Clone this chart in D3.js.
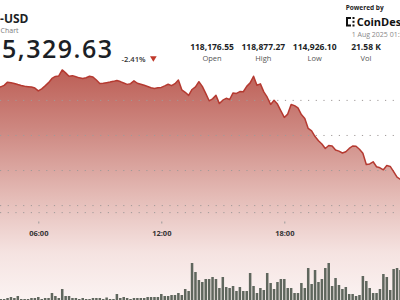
<!DOCTYPE html>
<html>
<head>
<meta charset="utf-8">
<script src="https://cdn.jsdelivr.net/npm/d3@7"></script>
<style>
  body { margin: 0; background: #fff; }
  svg { display: block; font-family: "Open Sans", sans-serif; }
</style>
</head>
<body>
<svg id="chart" width="400" height="300"></svg>
<script>
// BTC-USD, 10 minute steps from 31 Jul 2025 03:50 UTC
var startTime = Date.UTC(2025, 6, 31, 3, 50);
var prices = [
  118360,
  118371,118386,118429,118520,118506,118483,118451,118423,118403,118391,
  118380,118351,118271,118329,118414,118506,118626,118683,118697,118869,
  118786,118691,118706,118674,118643,118626,118646,118689,118669,118580,
  118483,118491,118506,118523,118543,118569,118537,118497,118457,118477,
  118557,118489,118463,118431,118397,118360,118340,118360,118371,118414,
  118460,118420,118477,118583,118303,118231,118143,118311,118386,118534,
  118400,118200,117989,118043,118143,117909,118006,118060,118026,118214,
  118200,118251,118246,118400,118500,118689,118434,118471,118243,118091,
  117886,118003,117894,117703,117514,117609,117883,117851,117786,117597,
  117483,117200,117129,116969,116851,116757,116629,116714,116700,116586,
  116554,116500,116537,116629,116700,116691,116606,116491,116174,116189,
  116249,116109,116077,116020,116143,116117,115971,115809,115749,115600,
  115420,115329.63
];
var volumes = [
  1,1,
  1,1,2,3,2,4,1,1,1,2,2,3,1,2,2,7,4,2,11,4,4,2,2,1,2,1,1,2,2,
  2,1,2.5,1,1,6,2,3,2,1,2,2,2,2,3,3,3,3,6,4,4,5,5,7,5,11,9,37,28,20,
  18,21,21,23,21,12,23,13,12,14,9,13,9,9,27,14,7,12,10,27,17,11,18,21,21,12,12,7,7,
  17,12,32,16,30,18,21,32,37,14,22,15,11,13,6,6,4,5,24,19,12,7,7,11,26,23,10,31,32,
  30,25,28,20
];
var gridValues = [118000, 117000, 116000, 115000];
var statLabels = ["Open", "High", "Low", "Vol"];
var statValues = ["118,176.55", "118,877.27", "114,926.10", "21.58 K"];

var data = prices.map(function (p, i) {
  return { time: new Date(startTime + i * 600000), price: p, volume: volumes[i] };
});

var svg = d3.select("#chart");
var width = 400, height = 300;

svg.append("rect").attr("width", width).attr("height", height).attr("fill", "#fff");

var x = d3.scaleUtc()
  .domain([new Date(Date.UTC(2025, 6, 31, 6)), new Date(Date.UTC(2025, 6, 31, 18))])
  .range([38.3, 284.3]);

var y = d3.scaleLinear().domain([115000, 118000]).range([205.6, 100.4]);
var yBottom = y(114800);

var yVol = d3.scaleLinear().domain([0, 40]).range([height, height - 40]);

// area gradient
var defs = svg.append("defs");
var grad = defs.append("linearGradient")
  .attr("id", "areaFill")
  .attr("gradientUnits", "userSpaceOnUse")
  .attr("x1", 0).attr("x2", 0).attr("y1", 65).attr("y2", height);
grad.append("stop").attr("offset", "0").attr("stop-color", "#bb5b52");
grad.append("stop").attr("offset", "0.27").attr("stop-color", "#cd8780");
grad.append("stop").attr("offset", "0.57").attr("stop-color", "#e5bdb8");
grad.append("stop").attr("offset", "0.8").attr("stop-color", "#f5e3e1");
grad.append("stop").attr("offset", "1").attr("stop-color", "#fbf3f2");

var area = d3.area()
  .x(function (d) { return x(d.time); })
  .y0(height)
  .y1(function (d) { return y(d.price); });

svg.append("path")
  .datum(data)
  .attr("d", area)
  .attr("fill", "url(#areaFill)");

// dotted grid
svg.append("g")
  .selectAll("line")
  .data(gridValues.concat([y.invert(yBottom)]))
  .enter().append("line")
  .attr("x1", 0).attr("x2", width)
  .attr("y1", function (d) { return y(d); })
  .attr("y2", function (d) { return y(d); })
  .attr("stroke", "#a09a99")
  .attr("stroke-width", 1)
  .attr("stroke-dasharray", "1.2,6.5");

var line = d3.line()
  .x(function (d) { return x(d.time); })
  .y(function (d) { return y(d.price); });

svg.append("path")
  .datum(data)
  .attr("d", line)
  .attr("fill", "none")
  .attr("stroke", "#b53a31")
  .attr("stroke-width", 1.5)
  .attr("stroke-linejoin", "round");

// volume bars
var step = x(data[1].time) - x(data[0].time);
svg.append("g")
  .selectAll("rect")
  .data(data)
  .enter().append("rect")
  .attr("x", function (d) { return x(d.time) - (step - 0.9) / 2; })
  .attr("width", step - 0.9)
  .attr("y", function (d) { return yVol(d.volume); })
  .attr("height", function (d) { return height - yVol(d.volume); })
  .attr("fill", "#5f665d");

// x axis
var xAxis = d3.axisBottom(x)
  .ticks(d3.utcHour.every(6))
  .tickFormat(d3.utcFormat("%H:%M"))
  .tickSize(2)
  .tickPadding(7.5);

var xAxisG = svg.append("g")
  .attr("transform", "translate(0,221.5)")
  .call(xAxis);
xAxisG.select(".domain").remove();
xAxisG.selectAll(".tick line").attr("stroke", "#999");
xAxisG.selectAll(".tick text")
  .attr("fill", "#333")
  .style("font-family", "'Open Sans', sans-serif")
  .style("font-size", "7.5px")
  .style("font-weight", 700);

// header
svg.append("text")
  .attr("x", 28.5).attr("y", 22.5)
  .attr("text-anchor", "end")
  .attr("fill", "#1c1f26")
  .style("font-size", "12px").style("font-weight", 700)
  .text("BTC-USD");

svg.append("text")
  .attr("x", 18.5).attr("y", 32.5)
  .attr("text-anchor", "end")
  .attr("fill", "#7a7a7a")
  .style("font-size", "7px")
  .text("Price Chart");

svg.append("text")
  .attr("x", 113.5).attr("y", 58)
  .attr("text-anchor", "end")
  .attr("fill", "#1c1f26")
  .style("font-size", "25px").style("font-weight", 600)
  .style("letter-spacing", "1.5px")
  .text(d3.format(",.2f")(prices[prices.length - 1]));

svg.append("text")
  .attr("x", 121.5).attr("y", 61.5)
  .attr("fill", "#333")
  .style("font-size", "7.6px").style("font-weight", 600)
  .text("-2.41%");

svg.append("path")
  .attr("d", "M150,56.3L156.7,56.3L153.35,61.8Z")
  .attr("fill", "#c0392b");

var statX = d3.scalePoint().domain(statLabels).range([212, 366]);

svg.append("g")
  .selectAll("text")
  .data(statValues)
  .enter().append("text")
  .attr("x", function (d, i) { return statX(statLabels[i]); })
  .attr("y", 50)
  .attr("text-anchor", "middle")
  .attr("fill", "#1c1f26")
  .style("font-size", "8.5px").style("font-weight", 700)
  .text(function (d) { return d; });

svg.append("g")
  .selectAll("text")
  .data(statLabels)
  .enter().append("text")
  .attr("x", function (d) { return statX(d); })
  .attr("y", 61)
  .attr("text-anchor", "middle")
  .attr("fill", "#555")
  .style("font-size", "7.5px")
  .text(function (d) { return d; });

// powered by
svg.append("text")
  .attr("x", 345.7).attr("y", 10)
  .attr("fill", "#222")
  .style("font-size", "6.5px").style("font-weight", 700)
  .text("Powered by");

var logo = svg.append("g").attr("fill", "#111");
logo.append("rect").attr("x", 346).attr("y", 17).attr("width", 2).attr("height", 9.5);
logo.append("rect").attr("x", 348).attr("y", 17).attr("width", 3).attr("height", 2);
logo.append("rect").attr("x", 348).attr("y", 24.5).attr("width", 3).attr("height", 2);
logo.append("rect").attr("x", 352.5).attr("y", 17).attr("width", 2).attr("height", 2);
logo.append("rect").attr("x", 352.5).attr("y", 20.8).attr("width", 2).attr("height", 2);
logo.append("rect").attr("x", 352.5).attr("y", 24.5).attr("width", 2).attr("height", 2);

svg.append("text")
  .attr("x", 356.7).attr("y", 26)
  .attr("fill", "#111")
  .style("font-size", "11px").style("font-weight", 700)
  .text("CoinDesk");

svg.append("text")
  .attr("x", 351.7).attr("y", 37.3)
  .attr("fill", "#888")
  .style("font-size", "7px")
  .text("1 Aug 2025 01:50 UTC");
</script>
</body>
</html>
